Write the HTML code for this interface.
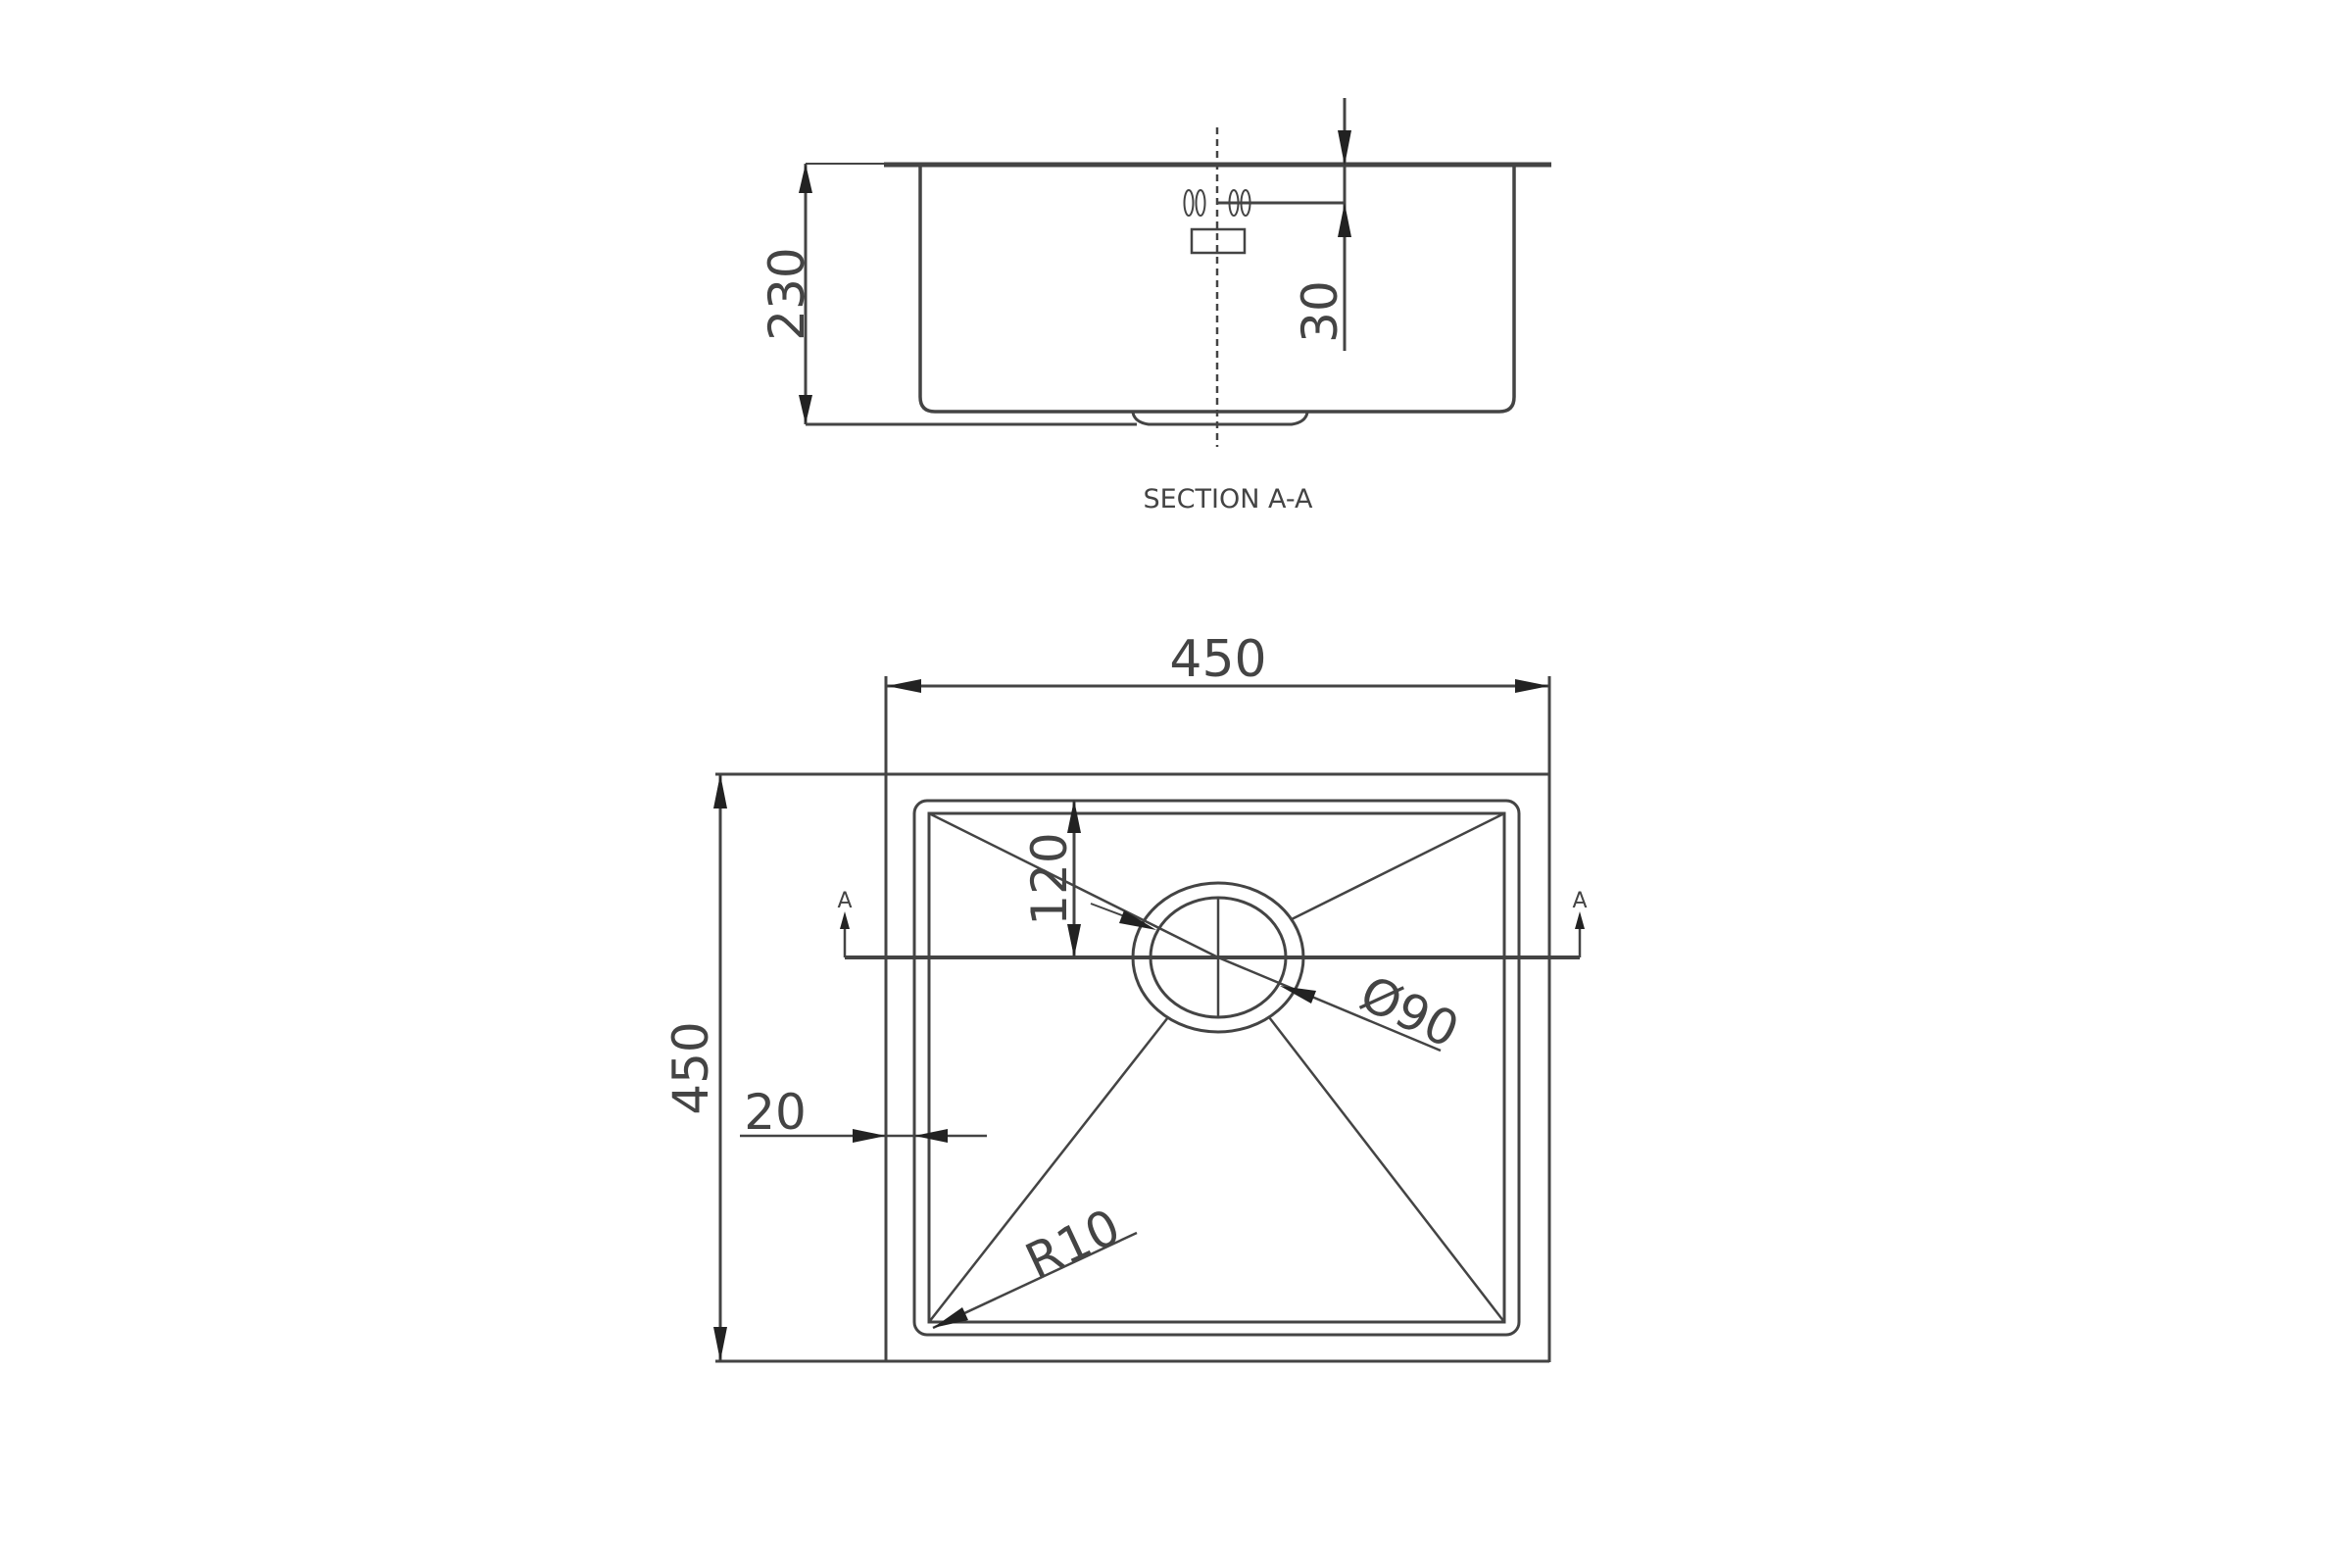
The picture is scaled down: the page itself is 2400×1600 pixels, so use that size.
<!DOCTYPE html>
<html><head><meta charset="utf-8"><style>
html,body{margin:0;padding:0;background:#fff;}
svg{display:block;}
text{font-family:"DejaVu Sans","Liberation Sans",sans-serif;fill:#444;}
</style></head><body>
<svg width="2400" height="1600" viewBox="0 0 2400 1600" xmlns="http://www.w3.org/2000/svg">
<rect width="2400" height="1600" fill="#fff"/>
<g stroke="#444" fill="none" stroke-width="2.5">
<!-- SECTION A-A -->
<line x1="822" y1="167" x2="905" y2="167" stroke-width="2"/>
<line x1="902" y1="168" x2="1583" y2="168" stroke-width="5"/>
<path d="M939 168 V405 Q939 420 954 420 H1530 Q1545 420 1545 405 V168" stroke-width="3.5"/>
<path d="M1156 421 Q1158 431 1172 433 H1318 Q1332 431 1334 421" stroke-width="3"/>
<line x1="822" y1="433" x2="1160" y2="433" stroke-width="3"/>
<line x1="822" y1="167" x2="822" y2="433" stroke-width="3"/>
<line x1="1242" y1="130" x2="1242" y2="456" stroke-width="2.5" stroke-dasharray="7,5"/>
<ellipse cx="1213" cy="207" rx="4.5" ry="13" stroke-width="2"/>
<ellipse cx="1225" cy="207" rx="4.5" ry="13" stroke-width="2"/>
<ellipse cx="1259" cy="207" rx="4.5" ry="13" stroke-width="2"/>
<ellipse cx="1271" cy="207" rx="4.5" ry="13" stroke-width="2"/>
<rect x="1216" y="234" width="54" height="24" stroke-width="2.5"/>
<line x1="1242" y1="207" x2="1372" y2="207" stroke-width="3"/>
<line x1="1372" y1="100" x2="1372" y2="358" stroke-width="3"/>
<!-- PLAN -->
<line x1="905" y1="700" x2="1581" y2="700" stroke-width="3"/>
<line x1="904" y1="690" x2="904" y2="1390" stroke-width="3"/>
<line x1="1581" y1="690" x2="1581" y2="1390" stroke-width="3"/>
<line x1="730" y1="790" x2="1581" y2="790" stroke-width="3"/>
<line x1="730" y1="1389" x2="1581" y2="1389" stroke-width="3"/>
<line x1="735" y1="790" x2="735" y2="1389" stroke-width="3"/>
<rect x="933" y="817" width="617" height="545" rx="13" stroke-width="3"/>
<rect x="948" y="830" width="587" height="519" stroke-width="3"/>
<ellipse cx="1243" cy="977" rx="87" ry="76" stroke-width="3"/>
<ellipse cx="1243" cy="977" rx="69" ry="61" stroke-width="3"/>
<line x1="1243" y1="916" x2="1243" y2="1038" stroke-width="2.5"/>
<polyline points="948,830 1243,977 1470,1072" stroke-width="2.5"/>
<line x1="1113" y1="922" x2="1150" y2="936" stroke-width="2"/>
<line x1="1535" y1="830" x2="1318" y2="938" stroke-width="2.5"/>
<line x1="948" y1="1349" x2="1192" y2="1038" stroke-width="2.5"/>
<line x1="1535" y1="1349" x2="1295" y2="1038" stroke-width="2.5"/>
<line x1="862" y1="977" x2="1612" y2="977" stroke-width="4"/>
<line x1="862" y1="977" x2="862" y2="945" stroke-width="2.5"/>
<line x1="1612" y1="977" x2="1612" y2="945" stroke-width="2.5"/>
<line x1="1096" y1="816" x2="1096" y2="977" stroke-width="3"/>
<line x1="755" y1="1159" x2="1007" y2="1159" stroke-width="2.5"/>
<line x1="952" y1="1355" x2="1160" y2="1258" stroke-width="2.5"/>
</g>
<g fill="#222">
<polygon points="822,167 815,197 829,197"/>
<polygon points="822,433 815,403 829,403"/>
<polygon points="1372,169 1365,133 1379,133"/>
<polygon points="1372,207 1365,242 1379,242"/>
<polygon points="905,700 940,693 940,707"/>
<polygon points="1581,700 1546,693 1546,707"/>
<polygon points="735,790 728,825 742,825"/>
<polygon points="735,1389 728,1354 742,1354"/>
<polygon points="1096,816 1089,850 1103,850"/>
<polygon points="1096,977 1089,943 1103,943"/>
<polygon points="862,930 857,948 867,948"/>
<polygon points="1612,930 1607,948 1617,948"/>
<polygon points="904,1159 870,1152 870,1166"/>
<polygon points="933,1159 967,1152 967,1166"/>
<polygon points="1180,949 1147,929 1142,942"/>
<polygon points="1306,1006 1343,1011 1338,1024"/>
<polygon points="952,1355 982,1334 988,1347"/>
</g>
<g font-size="50">
<text x="1243" y="690" text-anchor="middle" font-size="52">450</text>
<text transform="translate(722,1090) rotate(-90)" text-anchor="middle">450</text>
<text transform="translate(820,300) rotate(-90)" text-anchor="middle">230</text>
<text transform="translate(1364,318) rotate(-90)" text-anchor="middle">30</text>
<text transform="translate(1088,897) rotate(-90)" text-anchor="middle">120</text>
<text x="791" y="1152" text-anchor="middle">20</text>
<text transform="translate(1431,1048) rotate(25)" text-anchor="middle">Ø90</text>
<text transform="translate(1102,1285) rotate(-25)" text-anchor="middle">R10</text>
</g>
<text x="1253" y="518" text-anchor="middle" font-size="27" font-family="Liberation Mono, monospace">SECTION A-A</text>
<text x="862" y="926" text-anchor="middle" font-size="22">A</text>
<text x="1612" y="926" text-anchor="middle" font-size="22">A</text>
</svg>
</body></html>
